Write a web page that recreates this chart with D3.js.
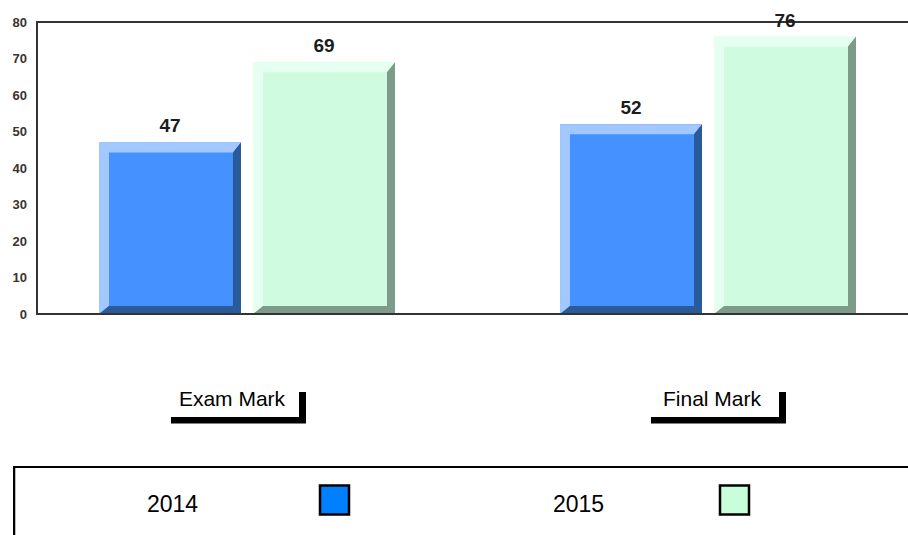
<!DOCTYPE html>
<meta charset="utf-8">
<script src="https://d3js.org/d3.v7.min.js"></script>
<body style="margin:0;background:#fff">
<svg width="908" height="535"></svg>
<script>
    var categories = ["Exam Mark", "Final Mark"];
    var series = ["2014", "2015"];
    var values2014 = [47, 52];
    var values2015 = [69, 76];
    var yTicks = [0, 10, 20, 30, 40, 50, 60, 70, 80];

    // colours per series: face, light bevel, dark bevel, legend swatch
    var colors = {
        "2014": {face: "#4491ff", light: "#a2c8ff", dark: "#295b9b", swatch: "#0080ff"},
        "2015": {face: "#cffce0", light: "#e5fff0", dark: "#7d9b88", swatch: "#c8ffda"}
    };

    var svg = d3.select("svg");
    var font = "'Liberation Sans', Arial, sans-serif";
    var plotL = 37, plotR = 908, plotT = 22, plotB = 314;

    var rows = categories.map(function(c, i){
        return {cat: c, vals: [{s: "2014", v: values2014[i]}, {s: "2015", v: values2015[i]}]};
    });

    var y = d3.scaleLinear().domain([0, 80]).range([plotB, plotT]);
    var x0 = d3.scaleBand().domain(categories).range([99, 856]).paddingInner(0.358);
    var x1 = d3.scaleBand().domain(series).range([0, x0.bandwidth()]).paddingInner(0.078);
    var labelX = d3.scalePoint().domain(categories).range([238, 718]);
    var legendX = d3.scalePoint().domain(series).range([147, 553]);

    /* ----------- frame ----------- */
    svg.append("line").attr("x1", plotL).attr("x2", plotR).attr("y1", plotT).attr("y2", plotT)
        .attr("stroke", "#333").attr("stroke-width", 2);
    svg.append("line").attr("x1", plotL).attr("x2", plotL).attr("y1", plotT - 1).attr("y2", plotB + 1)
        .attr("stroke", "#333").attr("stroke-width", 2);

    var yAxis = svg.append("g").attr("transform", "translate(" + plotL + ",0)")
        .call(d3.axisLeft(y).tickValues(yTicks).tickSize(0).tickPadding(10));
    yAxis.select(".domain").remove();
    yAxis.selectAll("text").attr("font-family", font).attr("font-size", 13)
        .attr("font-weight", "bold").attr("fill", "#3a3330");

    /* ----------- bars ----------- */
    var bev = {l: 10, t: 10, r: 8, b: 8};

    var groups = svg.selectAll("g.grp").data(rows).enter().append("g")
        .attr("class", "grp")
        .attr("transform", function(d){ return "translate(" + x0(d.cat) + ",0)"; });

    var bars = groups.selectAll("g.bar").data(function(d){ return d.vals; }).enter().append("g")
        .attr("class", "bar");

    function geo(d){
        var by = y(d.v);
        return {x: x1(d.s), y: by, w: x1.bandwidth(), h: plotB - by};
    }

    bars.append("rect")
        .attr("x", function(d){ return geo(d).x; })
        .attr("y", function(d){ return geo(d).y; })
        .attr("width", x1.bandwidth())
        .attr("height", function(d){ return geo(d).h; })
        .attr("fill", function(d){ return colors[d.s].face; });

    bars.append("path")
        .attr("fill", function(d){ return colors[d.s].light; })
        .attr("d", function(d){
            var g = geo(d);
            return "M" + g.x + "," + g.y + "L" + (g.x + g.w) + "," + g.y +
                "L" + (g.x + g.w - bev.r) + "," + (g.y + bev.t) +
                "L" + (g.x + bev.l) + "," + (g.y + bev.t) +
                "L" + (g.x + bev.l) + "," + (g.y + g.h - bev.b) +
                "L" + g.x + "," + (g.y + g.h) + "Z";
        });

    bars.append("path")
        .attr("fill", function(d){ return colors[d.s].dark; })
        .attr("d", function(d){
            var g = geo(d);
            return "M" + (g.x + g.w) + "," + g.y + "L" + (g.x + g.w) + "," + (g.y + g.h) +
                "L" + g.x + "," + (g.y + g.h) +
                "L" + (g.x + bev.l) + "," + (g.y + g.h - bev.b) +
                "L" + (g.x + g.w - bev.r) + "," + (g.y + g.h - bev.b) +
                "L" + (g.x + g.w - bev.r) + "," + (g.y + bev.t) + "Z";
        });

    // baseline
    svg.append("line").attr("x1", plotL).attr("x2", plotR).attr("y1", plotB).attr("y2", plotB)
        .attr("stroke", "#333").attr("stroke-width", 2);

    bars.append("text")
        .attr("x", function(d){ return geo(d).x + x1.bandwidth() / 2; })
        .attr("y", function(d){ return geo(d).y - 10; })
        .attr("text-anchor", "middle")
        .attr("font-family", font).attr("font-size", 19).attr("font-weight", "bold")
        .attr("fill", "#1c1c1c")
        .text(function(d){ return d.v; });

    /* ----------- category labels ----------- */
    var cats = svg.selectAll("g.cat").data(categories).enter().append("g")
        .attr("class", "cat")
        .attr("transform", function(d){ return "translate(" + labelX(d) + ",0)"; });

    cats.append("text")
        .attr("x", -6).attr("y", 406)
        .attr("text-anchor", "middle")
        .attr("font-family", font).attr("font-size", 21)
        .attr("fill", "#000")
        .text(function(d){ return d; });

    cats.append("path")
        .attr("fill", "#000")
        .attr("d", "M-67,417H61V392H68V423.5H-67Z");

    /* ----------- legend ----------- */
    svg.append("path").attr("d", "M14,535V467H908")
        .attr("fill", "none").attr("stroke", "#000").attr("stroke-width", 2);
    svg.append("line").attr("x1", 15.5).attr("x2", 15.5).attr("y1", 468).attr("y2", 535)
        .attr("stroke", "#bbb").attr("stroke-width", 1);

    var leg = svg.selectAll("g.leg").data(series).enter().append("g")
        .attr("class", "leg")
        .attr("transform", function(d){ return "translate(" + legendX(d) + ",0)"; });

    leg.append("text")
        .attr("x", 0).attr("y", 512)
        .attr("font-family", font).attr("font-size", 23)
        .attr("fill", "#000")
        .text(function(d){ return d; });

    leg.append("rect")
        .attr("x", function(d, i){ return 173 - i * 6; }).attr("y", 485.5)
        .attr("width", 29).attr("height", 29)
        .attr("fill", function(d){ return colors[d].swatch; })
        .attr("stroke", "#000").attr("stroke-width", 2.5);
</script>
</body>
